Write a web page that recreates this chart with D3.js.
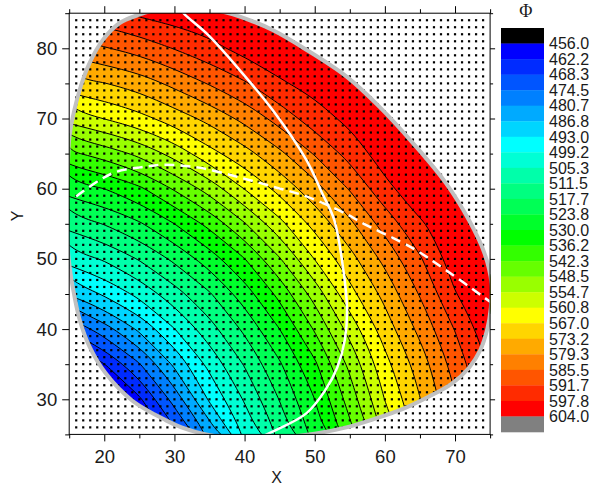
<!DOCTYPE html>
<html>
<head>
<meta charset="utf-8">
<script src="https://cdn.jsdelivr.net/npm/d3@7"></script>
<style>
  body { margin: 0; background: #fff; }
  svg { display: block; font-family: "Liberation Sans", Arial, sans-serif; }
</style>
</head>
<body>
<svg id="chart" width="592" height="488"></svg>
<script>
// Φ sampled every 5 units, read off the picture. Rows go from y = 25 (first) to y = 85 (last),
// columns from x = 15 to x = 75.
const gridX = [15, 20, 25, 30, 35, 40, 45, 50, 55, 60, 65, 70, 75];
const gridY = [25, 30, 35, 40, 45, 50, 55, 60, 65, 70, 75, 80, 85];
const phiRows = [
  [420, 435, 451, 466, 482, 500, 513, 526, 540, 556, 570, 582, 594],
  [435, 447, 461, 477, 494, 506, 518, 530, 545, 561, 573, 585, 596],
  [452, 462, 474, 488, 501, 512, 523, 535, 550, 565, 576, 588, 599],
  [469, 478, 488, 499, 509, 519, 530, 543, 557, 570, 581, 592, 602],
  [487, 494, 501, 509, 517, 527, 538, 551, 565, 575, 586, 597.5, 602],
  [502, 506, 512, 519, 527, 536, 548, 561, 571, 581, 591, 601, 603],
  [514, 518, 523, 530, 538, 548, 559, 569, 578, 588, 597, 601.5, 603],
  [527, 530, 535, 543, 551, 561, 569, 577, 586, 596, 602.3, 603.5, 603.5],
  [541, 545, 550, 557, 565, 571, 578, 586, 594, 601, 602.5, 603.5, 603.5],
  [557, 561, 565, 570, 575, 581, 588, 595, 599.5, 601.5, 603, 603.5, 603.5],
  [571, 573, 576, 581, 586, 591, 597, 600, 602, 603, 603.5, 603.5, 603.5],
  [582, 585, 588, 592, 596, 600, 602, 603, 603.5, 603.5, 603.5, 603.5, 603.5],
  [594, 596, 599, 601, 602, 603, 603.5, 603.5, 603.5, 603.5, 603.5, 603.5, 603.5]
];

// colour-bar levels (also the contour levels)
const levels = [456.0, 462.2, 468.3, 474.5, 480.7, 486.8, 493.0, 499.2, 505.3, 511.5, 517.7, 523.8,
  530.0, 536.2, 542.3, 548.5, 554.7, 560.8, 567.0, 573.2, 579.3, 585.5, 591.7, 597.8, 604.0];

// outline of the sampled region (grey rim)
const rimPts = [
  [14.7, 53], [14.6, 58], [14.8, 63], [15.1, 67.9], [16.5, 74.1], [17.9, 77.9], [19.8, 81.2],
  [22.2, 83.6], [25, 84.8], [28, 85.6], [32, 85.9], [36.5, 85.3], [40.5, 84.1], [44, 82.6],
  [48.8, 79.8], [54.5, 76], [59.2, 71.7], [64, 66.5], [68.7, 60.8], [72, 55.5], [74.2, 50.8],
  [75.2, 46.5], [75.1, 43], [74.6, 40], [73.6, 37], [72, 34.5], [69.5, 32.2], [66.3, 30.4],
  [62.5, 28.6], [58.5, 27.2], [54.5, 26], [50, 25.1], [45, 24.6], [39, 24.5], [34.5, 25],
  [31, 26], [28.8, 27], [24, 29.8], [20.2, 33.7], [17.9, 37.5], [16.5, 41.3], [15.5, 46], [15, 49.4]
];

// white solid curve and white dashed curve
const ridgePts = [
  [30.6, 86], [31.3, 85], [34.8, 81.9], [39.3, 76.9], [44, 71.2], [48.8, 64.1], [51, 59.5],
  [52.8, 55.5], [54, 49], [54.6, 43], [54.3, 38.5], [53.2, 34.5], [51.5, 31.3], [48.8, 28],
  [44, 25.4], [42, 24.5]
];
const dashPts = [
  [16, 58.9], [19.3, 61.2], [21.7, 62.4], [25.5, 63.1], [28.8, 63.4], [33.5, 63.0], [39.3, 61.6],
  [44, 60.3], [48.8, 58.9], [54.5, 56.4], [56.8, 55.1], [64, 51.5], [68.7, 48.4], [75, 43.9], [76, 43.2]
];

// sample markers (black dots) and axis ticks
const dotX = d3.range(16, 75);
const dotY = d3.range(26, 85);
const xMajor = [20, 30, 40, 50, 60, 70];
const xMinor = [15, 25, 35, 45, 55, 65, 75];
const yMajor = [30, 40, 50, 60, 70, 80];
const yMinor = [25, 35, 45, 55, 65, 75, 85];

const svg = d3.select("#chart");
const x = d3.scaleLinear().domain([15, 75]).range([69.2, 490.1]);
const y = d3.scaleLinear().domain([25, 85]).range([434.4, 13.2]);

// rainbow: blue -> cyan -> green -> yellow -> red across the 24 bands
const bandColor = d3.scaleLinear().domain([0, 6, 12, 17, 23])
  .range(["#0000ff", "#00ffff", "#00ff00", "#ffff00", "#ff0000"]);
const underColor = "#000000";
const overColor = "#808080";
const fillFor = k => (k < levels.length - 1 ? bandColor(k) : overColor);

const defs = svg.append("defs");
defs.append("clipPath").attr("id", "plotClip").append("rect")
  .attr("x", x(15)).attr("y", y(85))
  .attr("width", x(75) - x(15)).attr("height", y(25) - y(85));

const rimLine = d3.line().x(d => x(d[0])).y(d => y(d[1])).curve(d3.curveCatmullRomClosed);
defs.append("clipPath").attr("id", "rimClip").append("path").attr("d", rimLine(rimPts));

const plot = svg.append("g").attr("clip-path", "url(#plotClip)");
const region = plot.append("g").attr("clip-path", "url(#rimClip)");

// contour bands
const step = gridX[1] - gridX[0];
const contours = d3.contours()
  .size([gridX.length, gridY.length])
  .thresholds(levels)(phiRows.flat());

const ringLine = d3.line()
  .x(p => x(gridX[0] + (p[0] - 0.5) * step))
  .y(p => y(gridY[0] + (p[1] - 0.5) * step))
  .curve(d3.curveBasisClosed);

const contourPath = c => c.coordinates
  .map(poly => poly.map(ring => ringLine(ring.slice(0, -1))).join(""))
  .join("");

region.append("rect")
  .attr("x", x(15) - 20).attr("y", y(85) - 20)
  .attr("width", x(75) - x(15) + 40).attr("height", y(25) - y(85) + 40)
  .attr("fill", underColor);

region.selectAll("path.band")
  .data(contours)
  .join("path")
  .attr("class", "band")
  .attr("d", contourPath)
  .attr("fill", (d, i) => fillFor(i))
  .attr("fill-rule", "evenodd");

region.selectAll("path.iso")
  .data(contours.filter((d, i) => i > 0 && i < levels.length - 1))
  .join("path")
  .attr("class", "iso")
  .attr("d", contourPath)
  .attr("fill", "none")
  .attr("stroke", "#000")
  .attr("stroke-width", 1);

// sample dots
const dots = d3.cross(dotX, dotY);
plot.append("g").selectAll("rect")
  .data(dots)
  .join("rect")
  .attr("x", d => x(d[0]) - 1.1)
  .attr("y", d => y(d[1]) - 1.1)
  .attr("width", 2.2)
  .attr("height", 2.2)
  .attr("fill", "#000");

// grey rim
plot.append("path")
  .attr("d", rimLine(rimPts))
  .attr("fill", "none")
  .attr("stroke", "#c0c0c0")
  .attr("stroke-width", 4);

// white curves
const openLine = d3.line().x(d => x(d[0])).y(d => y(d[1])).curve(d3.curveCatmullRom);
plot.append("path")
  .attr("d", openLine(ridgePts))
  .attr("fill", "none")
  .attr("stroke", "#fff")
  .attr("stroke-width", 2.5);
plot.append("path")
  .attr("d", openLine(dashPts))
  .attr("fill", "none")
  .attr("stroke", "#fff")
  .attr("stroke-width", 2.5)
  .attr("stroke-dasharray", "10,6");

// frame and axes
svg.append("rect")
  .attr("x", x(15)).attr("y", y(85))
  .attr("width", x(75) - x(15)).attr("height", y(25) - y(85))
  .attr("fill", "none").attr("stroke", "#000").attr("stroke-width", 1);

function addAxis(axisFn, scale, values, size, pad, labelled, tr) {
  const g = svg.append("g")
    .attr("transform", tr)
    .call(axisFn(scale).tickValues(values).tickSize(size).tickPadding(pad)
      .tickFormat(labelled ? d3.format("d") : () => ""));
  g.select(".domain").remove();
  g.attr("font-size", 18.5).attr("font-family", "Liberation Sans, Arial, sans-serif");
  g.selectAll("line").attr("stroke", "#000");
  g.selectAll("text").attr("fill", "#1a1a1a");
  return g;
}

addAxis(d3.axisBottom, x, xMajor, 7, 8, true, `translate(0,${y(25)})`);
addAxis(d3.axisBottom, x, xMinor, 4, 0, false, `translate(0,${y(25)})`);
addAxis(d3.axisTop, x, xMajor, 7, 0, false, `translate(0,${y(85)})`);
addAxis(d3.axisTop, x, xMinor, 4, 0, false, `translate(0,${y(85)})`);
addAxis(d3.axisLeft, y, yMajor, 7, 5, true, `translate(${x(15)},0)`);
addAxis(d3.axisLeft, y, yMinor, 4, 0, false, `translate(${x(15)},0)`);
addAxis(d3.axisRight, y, yMajor, 5, 0, false, `translate(${x(75)},0)`);
addAxis(d3.axisRight, y, yMinor, 3, 0, false, `translate(${x(75)},0)`);

svg.append("text")
  .attr("x", 276.7).attr("y", 483)
  .attr("text-anchor", "middle")
  .attr("font-size", 16).attr("fill", "#1a1a1a")
  .text("X");
svg.append("text")
  .attr("transform", "translate(23.3,216) rotate(-90)")
  .attr("text-anchor", "middle")
  .attr("font-size", 16).attr("fill", "#1a1a1a")
  .text("Y");

// colour bar: under-range, 24 bands, over-range
const barBands = d3.range(levels.length + 1);
const bar = d3.scaleLinear().domain([0, barBands.length]).range([28, 432]);
const barG = svg.append("g");
barG.selectAll("rect")
  .data(barBands)
  .join("rect")
  .attr("x", 501)
  .attr("y", i => bar(i))
  .attr("width", 43)
  .attr("height", i => bar(i + 1) - bar(i) + 0.3)
  .attr("fill", i => (i === 0 ? underColor : fillFor(i - 1)));

barG.selectAll("text")
  .data(levels)
  .join("text")
  .attr("x", 549)
  .attr("y", (d, k) => bar(k + 1))
  .attr("dy", "0.36em")
  .attr("font-size", 16)
  .attr("fill", "#1a1a1a")
  .text(d => d3.format(".1f")(d));

svg.append("text")
  .attr("x", 525.8).attr("y", 16.8)
  .attr("text-anchor", "middle")
  .attr("font-family", "Liberation Serif, serif")
  .attr("font-size", 18)
  .attr("fill", "#1a1a1a")
  .text("Φ");
</script>
</body>
</html>
